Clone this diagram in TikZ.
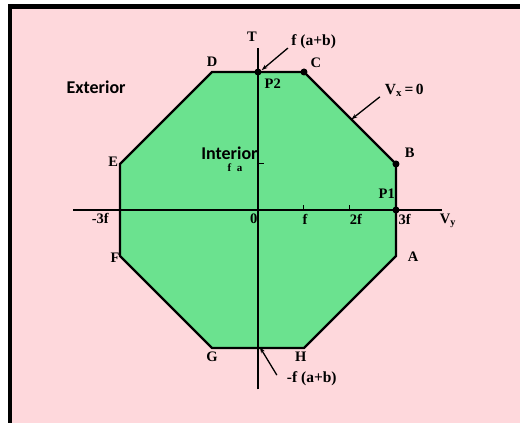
\documentclass[tikz,border=0pt]{standalone}
\usepackage{fontspec}
\setmainfont{Liberation Serif}
\newfontfamily\regionfont{Carlito}
\usetikzlibrary{arrows.meta,positioning,calc}
\definecolor{octgreen}{HTML}{6BE28F}
\definecolor{outpink}{HTML}{FED8DC}

\begin{document}
\begin{tikzpicture}[x=46pt,y=46pt,
 lbl/.style={font=\fontsize{14.5}{16}\selectfont\bfseries,inner sep=0pt},
 small/.style={font=\fontsize{11}{12}\selectfont\bfseries,inner sep=0pt},
 pointlbl/.style={font=\fontsize{15.5}{17}\selectfont\bfseries,inner sep=0pt},
 region/.style={font=\fontsize{18}{20}\selectfont\regionfont\bfseries,inner sep=0pt},
 axis/.style={line width=1.4pt},
 pointer/.style={line width=1.3pt,-{Stealth[length=6pt,width=4pt]}},
 dot/.style={circle,fill=black,inner sep=0pt,minimum size=7pt}]
% frame
\useasboundingbox (-5.609,-4.674) rectangle (5.696,4.565);
\fill[white] (-5.609,-4.674) rectangle (5.696,4.565);
\fill[black] (-5.435,-4.630) rectangle (5.696,4.478);
\fill[outpink] (-5.348,-4.630) rectangle (5.696,4.370);
% octagon
\coordinate (A) at (3,-1);
\coordinate (B) at (3,1);
\coordinate (C) at (1,3);
\coordinate (D) at (-1,3);
\coordinate (E) at (-3,1);
\coordinate (F) at (-3,-1);
\coordinate (G) at (-1,-3);
\coordinate (H) at (1,-3);
\filldraw[fill=octgreen,line width=2.2pt] (A) -- (B) -- (C) -- (D) -- (E) -- (F) -- (G) -- (H) -- cycle;
% axes
\coordinate (xl) at (-4.02,0);
\coordinate (xr) at (4.0,0);
\coordinate (yb) at (0,-3.9);
\coordinate (yt) at (0,3.52);
\draw[axis] (xl) -- (xr);
\draw[axis] (yb) -- (yt);
\foreach \k in {1,2}
 \draw[line width=1pt] (\k,0) -- (\k,0.1);
\draw[line width=1pt] (0,1.02) -- (0.13,1.02);
% points
\node[dot] (P1) at (3,0) {};
\node[dot] (P2) at (0,3) {};
\node[dot] (Cdot) at (C) {};
\node[dot] (Bdot) at (B) {};
% labels
\node[lbl] (Tlab) at (-0.13,3.76) {T};
\node[lbl] (Dlab) at (-1.0,3.22) {D};
\node[lbl] (Clab) at (1.26,3.20) {C};
\node[lbl] (P2lab) at (0.32,2.74) {P2};
\node[lbl] (Blab) at (3.30,1.24) {B};
\node[lbl] (P1lab) at (2.80,0.35) {P1};
\node[lbl] (Alab) at (3.37,-1.02) {A};
\node[lbl] (Elab) at (-3.15,1.04) {E};
\node[lbl] (Flab) at (-3.11,-1.04) {F};
\node[lbl] (Glab) at (-1.0,-3.2) {G};
\node[lbl] (Hlab) at (0.93,-3.2) {H};
\node[lbl] (m3f) at (-3.43,-0.19) {-3f};
\node[lbl] (zero) at (-0.09,-0.2) {0};
\node[lbl] (onef) at (1.02,-0.2) {f};
\node[lbl] (twof) at (2.13,-0.2) {2f};
\node[lbl] (threef) at (3.19,-0.2) {3f};
\node[lbl] (Vy) at (4.13,-0.24) {V\textsubscript{y}};
\node[small] (fa) at (-0.5,0.93) {f\ \ a};
\node[region] (ext) at (-3.52,2.67) {Exterior};
\node[region] (int) at (-0.62,1.24) {Interior};
\node[pointlbl] (top) at (1.21,3.65) {f (a+b)};
\node[pointlbl] (bot) at (1.17,-3.67) {-f (a+b)};
\node[pointlbl] (Vx) at (3.18,2.61) {V\textsubscript{x}\,=\,0};
% pointers
\coordinate (topfrom) at (0.65,3.52);
\coordinate (topto) at (0.08,3.04);
\coordinate (vxfrom) at (2.65,2.46);
\coordinate (vxto) at (2.03,1.97);
\coordinate (botfrom) at (0.41,-3.59);
\coordinate (botto) at (0.04,-2.98);
\draw[pointer] (topfrom) -- (topto);
\draw[pointer] (vxfrom) -- (vxto);
\draw[pointer] (botfrom) -- (botto);
\end{tikzpicture}
\end{document}
